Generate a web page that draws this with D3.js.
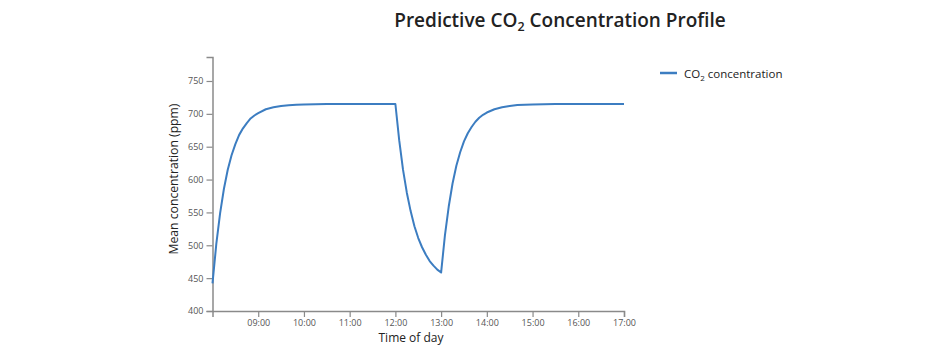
<!DOCTYPE html>
<html>
<head>
<meta charset="utf-8">
<script src="https://cdn.jsdelivr.net/npm/d3@7"></script>
<style>
  html, body { margin: 0; padding: 0; background: #fff; }
  svg text { font-family: "Open Sans", "Noto Sans", sans-serif; }
</style>
</head>
<body>
<svg id="chart" width="950" height="350"></svg>
<script>
// ---- Data ----
const times = [
  "08:00","08:05","08:10","08:15","08:20","08:25","08:30","08:35","08:40","08:45","08:50","08:55",
  "09:00","09:10","09:20","09:30","09:40","09:50","10:00","10:30","11:00","11:30","12:00",
  "12:05","12:10","12:15","12:20","12:25","12:30","12:35","12:40","12:45","12:50","12:55","13:00",
  "13:05","13:10","13:15","13:20","13:25","13:30","13:35","13:40","13:45","13:50","13:55",
  "14:00","14:10","14:20","14:30","14:40","14:50","15:00","15:30","16:00","16:30","17:00"
];
const co2 = [
  442, 502, 549, 586, 615, 637, 654, 668, 678, 686, 693, 697.5,
  701, 707, 710, 712, 713.2, 713.9, 714.3, 714.8, 715, 715, 715,
  660, 615, 580, 552, 529, 511, 497, 485.5, 476, 469, 463, 458.5,
  515, 559, 594, 621, 641.5, 658, 670.5, 680, 688, 694, 698.5,
  702, 707, 710, 712, 713.3, 714, 714.4, 714.9, 715, 715, 715
];
const xTickLabels = ["09:00","10:00","11:00","12:00","13:00","14:00","15:00","16:00","17:00"];
const yTickValues = [400, 450, 500, 550, 600, 650, 700, 750];
const seriesName = "concentration";

// ---- Layout ----
const svg = d3.select("#chart");
const parse = d3.timeParse("%H:%M");
const fmt = d3.timeFormat("%H:%M");
const data = times.map((t, i) => ({ t: parse(t), v: co2[i] }));

const x = d3.scaleTime()
  .domain([parse("08:00"), parse("17:00")])
  .range([212.5, 624]);
const y = d3.scaleLinear()
  .domain([400, d3.max(co2) * 1.1])
  .range([311, 57]);

const axisColor = "#8a8a8a";
const tickText = "#555";
const lineColor = "#3c7dc1";

// X axis
const gx = svg.append("g")
  .attr("transform", `translate(0,${y(400)})`)
  .call(d3.axisBottom(x).tickValues(xTickLabels.map(parse)).tickFormat(fmt).tickSizeOuter(6));
// Y axis
const gy = svg.append("g")
  .attr("transform", `translate(${x(parse("08:00"))},0)`)
  .call(d3.axisLeft(y).tickValues(yTickValues).tickSizeOuter(6));

[gx, gy].forEach(g => {
  g.select(".domain").attr("stroke", axisColor).attr("stroke-width", 1.5);
  g.selectAll(".tick line").attr("stroke", axisColor).attr("stroke-width", 1.2);
  g.selectAll(".tick text").attr("fill", tickText)
    .style("font-family", '"Open Sans", sans-serif').style("font-size", "9px");
});

// Line
svg.append("path")
  .datum(data)
  .attr("fill", "none")
  .attr("stroke", lineColor)
  .attr("stroke-width", 2)
  .attr("stroke-linejoin", "round")
  .attr("d", d3.line().x(d => x(d.t)).y(d => y(d.v)).curve(d3.curveLinear));

// Title
const title = svg.append("text")
  .attr("x", 560).attr("y", 27)
  .attr("text-anchor", "middle")
  .attr("fill", "#222")
  .style("font-size", "19px")
  .style("font-weight", "600");
title.append("tspan").text("Predictive CO");
title.append("tspan").attr("dy", 4).style("font-size", "12.5px").text("2");
title.append("tspan").attr("dy", -4).text(" Concentration Profile");

// Axis labels
svg.append("text")
  .attr("x", 411).attr("y", 342)
  .attr("text-anchor", "middle").attr("fill", "#222")
  .style("font-size", "12px")
  .text("Time of day");
svg.append("text")
  .attr("transform", `translate(177.5,179) rotate(-90)`)
  .attr("text-anchor", "middle").attr("fill", "#222")
  .style("font-size", "12.2px")
  .text("Mean concentration (ppm)");

// Legend
const lg = svg.append("g");
lg.append("line").attr("x1", 660).attr("x2", 677).attr("y1", 73).attr("y2", 73)
  .attr("stroke", lineColor).attr("stroke-width", 2.5);
const lt = lg.append("text").attr("x", 684).attr("y", 77.5).attr("fill", "#222")
  .style("font-size", "11.5px");
lt.append("tspan").text("CO");
lt.append("tspan").attr("dy", 3).style("font-size", "8px").text("2");
lt.append("tspan").attr("dy", -3).text(" " + seriesName);
</script>
</body>
</html>
